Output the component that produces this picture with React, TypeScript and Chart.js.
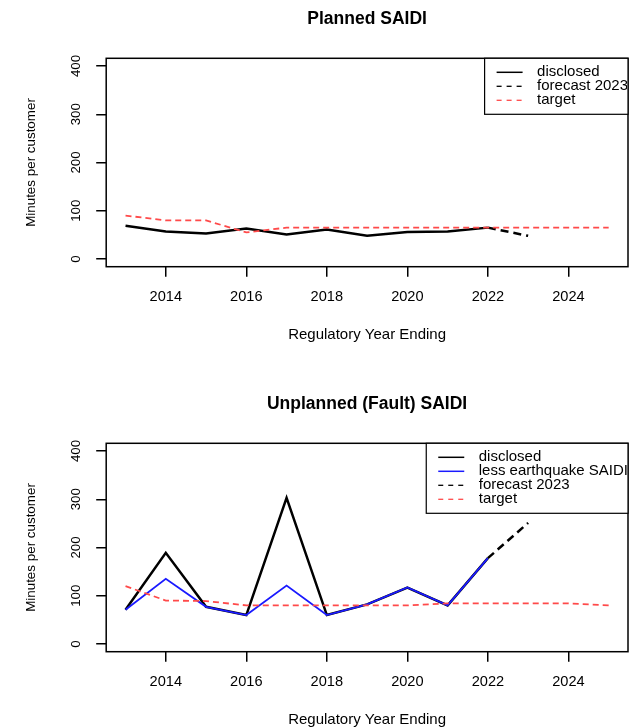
import React, { useEffect, useRef } from 'react';
import { Chart, registerables } from 'chart.js';

Chart.register(...registerables);

const FONT = '"Liberation Sans", Arial, Helvetica, sans-serif';

// ---- data ----
const xTicks = [2014, 2016, 2018, 2020, 2022, 2024];
const yTicks = [0, 100, 200, 300, 400];
const X_FIRST = 2013;
const X_LAST = 2025;
const Y_LOW = 0;
const Y_HIGH = 400;

const disclosedYears = [2013, 2014, 2015, 2016, 2017, 2018, 2019, 2020, 2021, 2022];
const forecastYears = [2022, 2023];
const targetYears = [2013, 2014, 2015, 2016, 2017, 2018, 2019, 2020, 2021, 2022, 2023, 2024, 2025];

const plannedDisclosed = [69, 57, 53, 63, 51, 61, 48, 56, 57, 65];
const plannedForecast = [65, 48];
const plannedTarget = [90, 80, 80, 55, 65, 65, 65, 65, 65, 65, 65, 65, 65];

const unplannedDisclosed = [71, 189, 77, 60, 303, 60, 82, 117, 80, 178];
const unplannedLessQuake = [71, 135, 77, 60, 121, 60, 82, 117, 80, 178];
const unplannedForecast = [178, 251];
const unplannedTarget = [120, 90, 89, 80, 80, 80, 80, 80, 84, 84, 84, 84, 80];

// R-style 4% axis extension
const xPad = (X_LAST - X_FIRST) * 0.04;
const yPad = (Y_HIGH - Y_LOW) * 0.04;
const X_MIN = X_FIRST - xPad;
const X_MAX = X_LAST + xPad;
const Y_MIN = Y_LOW - yPad;
const Y_MAX = Y_HIGH + yPad;

const RED = '#ff4a4a';
const BLUE = '#1a1aff';

const pts = (xs: number[], ys: number[]) => xs.map((x, i) => ({ x, y: ys[i] }));

const frame = {
  id: 'frame',
  afterDatasetsDraw(chart: any) {
    const { ctx, chartArea: a } = chart;
    ctx.save();
    ctx.strokeStyle = '#000';
    ctx.lineWidth = 1.5;
    ctx.strokeRect(a.left, a.top, a.right - a.left, a.bottom - a.top);
    ctx.restore();
  },
};

const boxLegend = {
  id: 'boxLegend',
  afterDraw(chart: any, _args: any, opts: any) {
    const { ctx, chartArea: a } = chart;
    const items = chart.data.datasets;
    ctx.save();
    ctx.font = `${opts.fontSize}px ${FONT}`;
    const maxW = Math.max(...items.map((d: any) => ctx.measureText(d.label).width));
    const right = a.right;
    const left = right - maxW - opts.textOffset;
    const top = a.top;
    const h = opts.rowHeight * (items.length + 1);
    ctx.fillStyle = '#fff';
    ctx.fillRect(left, top, right - left, h);
    items.forEach((d: any, i: number) => {
      const y = top + opts.rowHeight * (i + 1);
      ctx.beginPath();
      ctx.setLineDash(d.legendDash || []);
      ctx.lineWidth = d.legendWidth || 1;
      ctx.strokeStyle = d.borderColor;
      ctx.moveTo(left + opts.lineStart, y);
      ctx.lineTo(left + opts.lineEnd, y);
      ctx.stroke();
      ctx.setLineDash([]);
    });
    ctx.save();
    ctx.beginPath();
    ctx.rect(left, top, right - left - 1, h);
    ctx.clip();
    ctx.fillStyle = '#000';
    ctx.textBaseline = 'middle';
    ctx.textAlign = 'left';
    items.forEach((d: any, i: number) => {
      const y = top + opts.rowHeight * (i + 1);
      ctx.fillText(d.label, left + opts.textOffset, y);
    });
    ctx.restore();
    ctx.strokeStyle = '#000';
    ctx.lineWidth = 1.2;
    ctx.strokeRect(left, top, right - left, h);
    ctx.restore();
  },
};

function makeOptions(title: string): any {
  const tickGrid = {
    display: true,
    drawOnChartArea: false,
    drawTicks: true,
    tickLength: 10,
    lineWidth: 1.5,
    color: '#000',
  };
  return {
    responsive: false,
    animation: false,
    events: [],
    layout: { padding: { left: 0, right: 5, top: 0, bottom: 0 } },
    elements: { point: { radius: 0 }, line: { tension: 0 } },
    plugins: {
      legend: { display: false },
      tooltip: { enabled: false },
      title: { display: false },
      boxLegend: { fontSize: 15, rowHeight: 14, lineStart: 12, lineEnd: 38, textOffset: 52.5 },
    },
    scales: {
      x: {
        type: 'linear',
        position: 'bottom',
        min: X_MIN,
        max: X_MAX,
        afterBuildTicks: (s: any) => {
          s.ticks = xTicks.map((v) => ({ value: v }));
        },
        afterFit: (s: any) => {
          s.height = 118.3;
        },
        ticks: {
          autoSkip: false,
          minRotation: 0,
          maxRotation: 0,
          padding: 11.2,
          color: '#000',
          font: { size: 14.6, family: FONT },
          callback: (v: any) => String(v),
        },
        grid: tickGrid,
        border: { display: false },
        title: {
          display: true,
          text: 'Regulatory Year Ending',
          color: '#000',
          font: { size: 15, family: FONT },
          padding: { top: 0, bottom: 40.7 },
        },
      },
      x2: {
        type: 'linear',
        position: 'top',
        min: X_MIN,
        max: X_MAX,
        afterFit: (s: any) => {
          s.height = 58.3;
        },
        ticks: { display: false },
        grid: { display: false },
        border: { display: false },
        title: {
          display: true,
          text: title,
          color: '#000',
          font: { size: 17.5, weight: 'bold', family: FONT },
          padding: { top: 8.3, bottom: 0 },
        },
      },
      y: {
        type: 'linear',
        position: 'left',
        min: Y_MIN,
        max: Y_MAX,
        afterBuildTicks: (s: any) => {
          s.ticks = yTicks.map((v) => ({ value: v }));
        },
        afterFit: (s: any) => {
          s.width = 106.2;
        },
        ticks: {
          autoSkip: false,
          minRotation: 90,
          maxRotation: 90,
          crossAlign: 'center',
          padding: 9.2,
          color: '#000',
          font: { size: 13.2, family: FONT },
          callback: (v: any) => String(v),
        },
        grid: tickGrid,
        border: { display: false },
        title: {
          display: true,
          text: 'Minutes per customer',
          color: '#000',
          font: { size: 13.4, family: FONT },
          padding: { top: 23, bottom: 0 },
        },
      },
    },
  };
}

function disclosedSet(values: number[]) {
  return {
    label: 'disclosed',
    data: pts(disclosedYears, values),
    xAxisID: 'x',
    yAxisID: 'y',
    borderColor: '#000',
    borderWidth: 2.5,
    order: 3,
    legendWidth: 1.5,
  };
}
function quakeSet(values: number[]) {
  return {
    label: 'less earthquake SAIDI',
    data: pts(disclosedYears, values),
    xAxisID: 'x',
    yAxisID: 'y',
    borderColor: BLUE,
    borderWidth: 1.8,
    order: 2,
    legendWidth: 1.5,
  };
}
function forecastSet(values: number[]) {
  return {
    label: 'forecast 2023',
    data: pts(forecastYears, values),
    xAxisID: 'x',
    yAxisID: 'y',
    borderColor: '#000',
    borderWidth: 2.5,
    borderDash: [8, 5],
    order: 1,
    legendDash: [5, 5],
    legendWidth: 1.3,
  };
}
function targetSet(values: number[]) {
  return {
    label: 'target',
    data: pts(targetYears, values),
    xAxisID: 'x',
    yAxisID: 'y',
    borderColor: RED,
    borderWidth: 1.8,
    borderDash: [6, 4],
    order: 0,
    legendDash: [5, 5],
    legendWidth: 1.3,
  };
}

function Panel({ title, datasets, top }: { title: string; datasets: any[]; top: number }) {
  const ref = useRef<HTMLCanvasElement | null>(null);
  useEffect(() => {
    if (!ref.current) return;
    const chart = new Chart(ref.current, {
      type: 'line',
      data: { datasets },
      options: makeOptions(title),
      plugins: [frame, boxLegend],
    } as any);
    return () => chart.destroy();
  }, []);
  return (
    <canvas
      ref={ref}
      width={633}
      height={385}
      style={{ position: 'absolute', left: 0, top, width: 633, height: 385 }}
    />
  );
}

export default function App() {
  return (
    <div
      style={{
        position: 'fixed',
        left: 0,
        top: 0,
        width: 633,
        height: 728,
        overflow: 'hidden',
        background: '#fff',
      }}
    >
      <Panel
        title="Planned SAIDI"
        top={0}
        datasets={[disclosedSet(plannedDisclosed), forecastSet(plannedForecast), targetSet(plannedTarget)]}
      />
      <Panel
        title="Unplanned (Fault) SAIDI"
        top={385}
        datasets={[
          disclosedSet(unplannedDisclosed),
          quakeSet(unplannedLessQuake),
          forecastSet(unplannedForecast),
          targetSet(unplannedTarget),
        ]}
      />
    </div>
  );
}
